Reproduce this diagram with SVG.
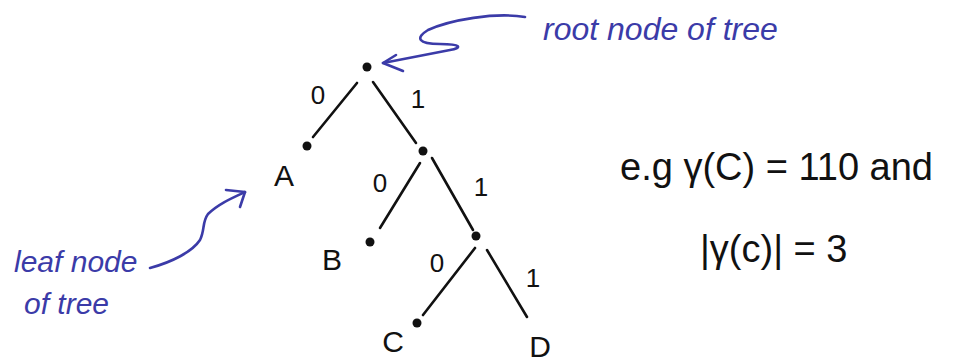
<svg xmlns="http://www.w3.org/2000/svg" width="967" height="363" viewBox="0 0 967 363">
<style>
.e{stroke:#111;stroke-width:2.6;stroke-linecap:round;fill:none}
.d{fill:#111}
.t{font-family:"Liberation Sans",Arial,sans-serif;fill:#111}
.b{font-family:"Liberation Sans",Arial,sans-serif;fill:#3b3ba8;font-style:italic}
.a{stroke:#3b3ba8;stroke-width:2.6;stroke-linecap:round;stroke-linejoin:round;fill:none}
</style>
<rect width="967" height="363" fill="#fff"/>
<g id="connectors">
<path class="e" d="M357 83 L313 137"/>
<path class="e" d="M373 82 L416 143"/>
<path class="e" d="M420 163 L380 228"/>
<path class="e" d="M432 158 L473 230"/>
<path class="e" d="M475 248 L423 315"/>
<path class="e" d="M487 250 L527 317"/>
<text class="t" x="318" y="104" font-size="26" text-anchor="middle">0</text>
<text class="t" x="418" y="108" font-size="26" text-anchor="middle">1</text>
<text class="t" x="380" y="192" font-size="26" text-anchor="middle">0</text>
<text class="t" x="481" y="196" font-size="26" text-anchor="middle">1</text>
<text class="t" x="437" y="272" font-size="26" text-anchor="middle">0</text>
<text class="t" x="533" y="287" font-size="26" text-anchor="middle">1</text>
</g>
<g id="root"><circle class="d" cx="367" cy="67" r="4.5"/></g>
<g id="n1"><circle class="d" cx="423" cy="151" r="4.5"/></g>
<g id="n2"><circle class="d" cx="476" cy="236" r="4.5"/></g>
<g id="A"><circle class="d" cx="307" cy="146" r="4.5"/><text class="t" x="284" y="186" font-size="30" text-anchor="middle">A</text></g>
<g id="B"><circle class="d" cx="370" cy="242" r="4.5"/><text class="t" x="332" y="270" font-size="30" text-anchor="middle">B</text></g>
<g id="C"><circle class="d" cx="417" cy="323" r="4.5"/><text class="t" x="393" y="352" font-size="30" text-anchor="middle">C</text></g>
<g id="D"><text class="t" x="540" y="357" font-size="30" text-anchor="middle">D</text></g>
<g id="root-label">
<text class="b" x="543" y="40" font-size="32">root node of tree</text>
<path class="a" d="M525 17 C495 12 450 20 428 30 C415 38 418 44 440 44 C462 44 462 48 450 50 L383 63"/>
<path class="a" d="M396 55 L383 63 L403 71"/>
</g>
<g id="leaf-label">
<text class="b" x="14" y="272" font-size="30">leaf node</text>
<text class="b" x="24" y="314" font-size="30">of tree</text>
<path class="a" d="M150 268 C172 262 192 252 200 240 C205 230 202 222 208 214 C218 204 232 198 245 192"/>
<path class="a" d="M226 190 L245 192 L240 207"/>
</g>
<g id="formula">
<text class="t" x="620" y="180" font-size="38">e.g γ(C) = 110 and</text>
<text class="t" x="700" y="262" font-size="38">|γ(c)| = 3</text>
</g>
</svg>
